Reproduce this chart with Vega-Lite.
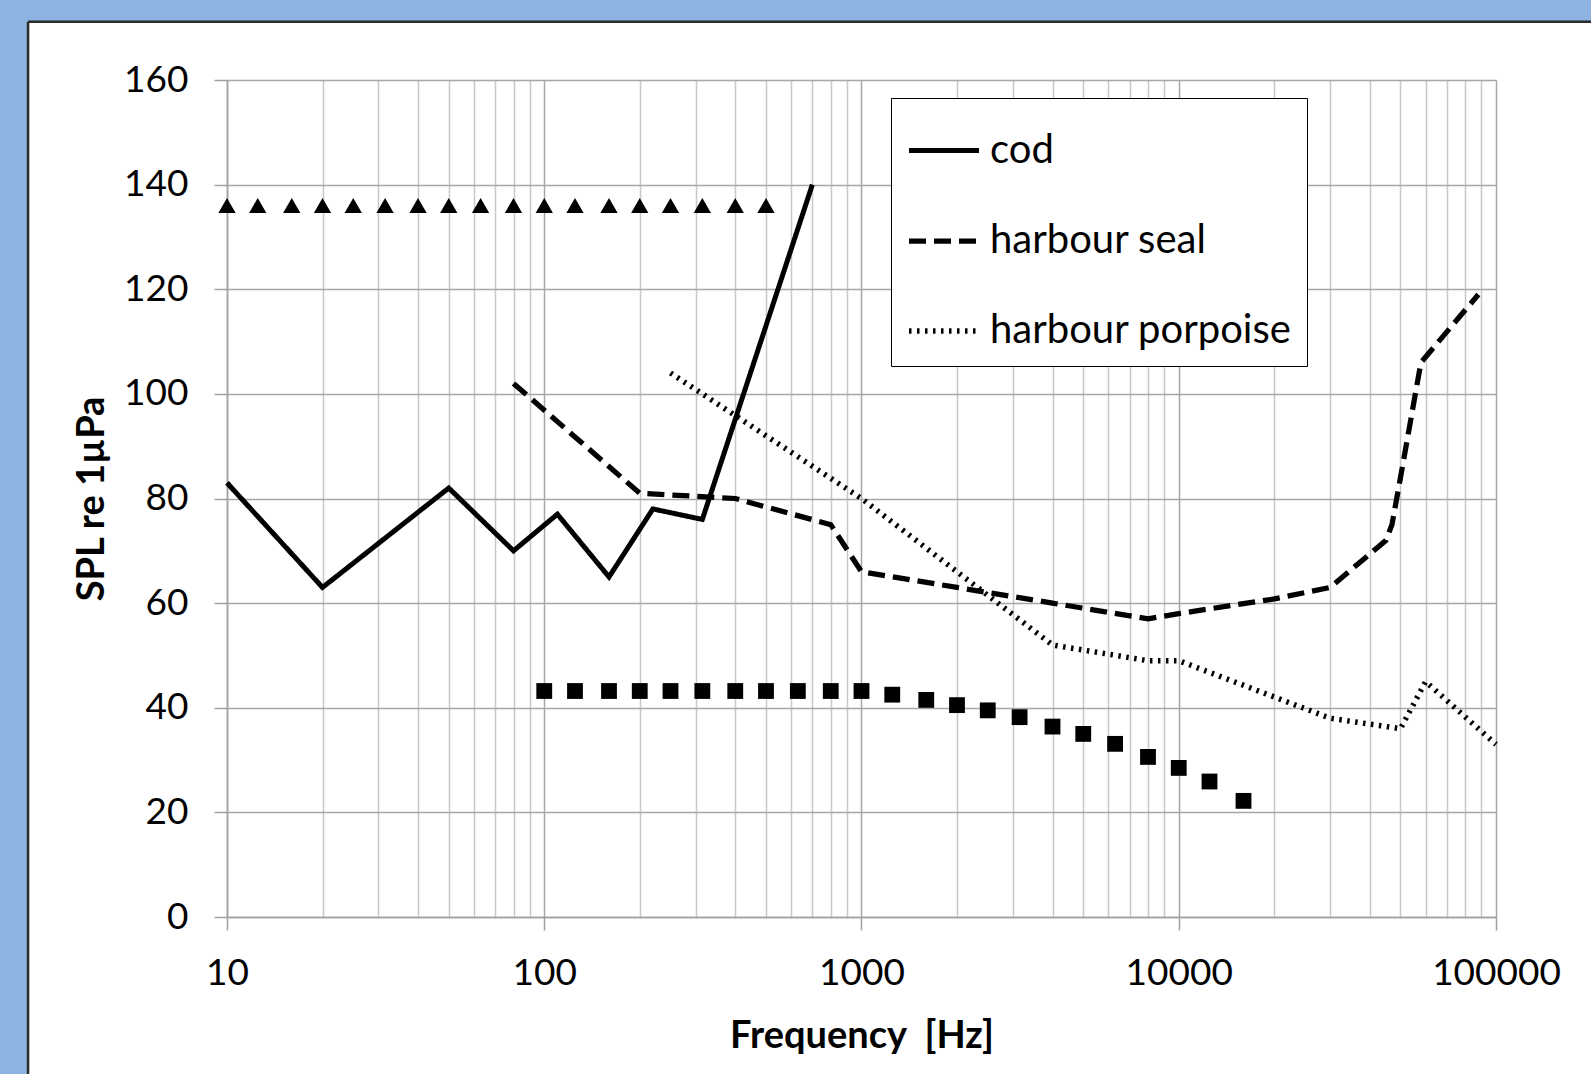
{
  "$schema": "https://vega.github.io/schema/vega-lite/v6.json",
  "width": 1269,
  "height": 837,
  "autosize": {"type": "none"},
  "padding": {"left": 227, "top": 80, "right": 95, "bottom": 157},
  "background": "#ffffff",
  "config": {
    "view": {"stroke": null},
    "font": "Lato",
    "axis": {
      "labelFont": "Lato",
      "labelFontSize": 37,
      "labelColor": "#000000",
      "titleFont": "Lato",
      "titleFontSize": 38,
      "titleFontWeight": "bold",
      "titleColor": "#000000",
      "domainColor": "#A0A0A0",
      "domainWidth": 1.5,
      "tickColor": "#A0A0A0",
      "tickWidth": 1.5,
      "gridWidth": 1.5
    },
    "legend": {
      "orient": "none",
      "legendX": 664,
      "legendY": 18,
      "strokeColor": "#000000",
      "fillColor": "#ffffff",
      "padding": 15,
      "symbolType": "stroke",
      "symbolSize": 4900,
      "symbolStrokeColor": "#000000",
      "labelFont": "Lato",
      "labelFontSize": 40,
      "labelColor": "#000000",
      "labelLimit": 600,
      "labelOffset": 8,
      "rowPadding": 32
    }
  },
  "datasets": {
    "lines": [
      {"species": "cod", "freq": 10, "spl": 83},
      {"species": "cod", "freq": 20, "spl": 63},
      {"species": "cod", "freq": 50, "spl": 82},
      {"species": "cod", "freq": 80, "spl": 70},
      {"species": "cod", "freq": 110, "spl": 77},
      {"species": "cod", "freq": 160, "spl": 65},
      {"species": "cod", "freq": 220, "spl": 78},
      {"species": "cod", "freq": 315, "spl": 76},
      {"species": "cod", "freq": 700, "spl": 140},
      {"species": "harbour seal", "freq": 80, "spl": 102},
      {"species": "harbour seal", "freq": 200, "spl": 81},
      {"species": "harbour seal", "freq": 400, "spl": 80},
      {"species": "harbour seal", "freq": 800, "spl": 75},
      {"species": "harbour seal", "freq": 1000, "spl": 66},
      {"species": "harbour seal", "freq": 2000, "spl": 63},
      {"species": "harbour seal", "freq": 4000, "spl": 60},
      {"species": "harbour seal", "freq": 8000, "spl": 57},
      {"species": "harbour seal", "freq": 10000, "spl": 58},
      {"species": "harbour seal", "freq": 20000, "spl": 60.8},
      {"species": "harbour seal", "freq": 30000, "spl": 63},
      {"species": "harbour seal", "freq": 45000, "spl": 72},
      {"species": "harbour seal", "freq": 47000, "spl": 75},
      {"species": "harbour seal", "freq": 50000, "spl": 84},
      {"species": "harbour seal", "freq": 58000, "spl": 106},
      {"species": "harbour seal", "freq": 88000, "spl": 119},
      {"species": "harbour porpoise", "freq": 250, "spl": 104},
      {"species": "harbour porpoise", "freq": 1000, "spl": 80},
      {"species": "harbour porpoise", "freq": 2000, "spl": 66},
      {"species": "harbour porpoise", "freq": 4000, "spl": 52},
      {"species": "harbour porpoise", "freq": 8000, "spl": 49},
      {"species": "harbour porpoise", "freq": 10000, "spl": 49},
      {"species": "harbour porpoise", "freq": 30000, "spl": 38},
      {"species": "harbour porpoise", "freq": 50000, "spl": 36},
      {"species": "harbour porpoise", "freq": 60000, "spl": 45},
      {"species": "harbour porpoise", "freq": 100000, "spl": 33}
    ],
    "triangles": [
      {"freq": 10, "spl": 136}, {"freq": 12.5, "spl": 136}, {"freq": 16, "spl": 136},
      {"freq": 20, "spl": 136}, {"freq": 25, "spl": 136}, {"freq": 31.5, "spl": 136},
      {"freq": 40, "spl": 136}, {"freq": 50, "spl": 136}, {"freq": 63, "spl": 136},
      {"freq": 80, "spl": 136}, {"freq": 100, "spl": 136}, {"freq": 125, "spl": 136},
      {"freq": 160, "spl": 136}, {"freq": 200, "spl": 136}, {"freq": 250, "spl": 136},
      {"freq": 315, "spl": 136}, {"freq": 400, "spl": 136}, {"freq": 500, "spl": 136}
    ],
    "squares": [
      {"freq": 100, "spl": 43.2}, {"freq": 125, "spl": 43.2}, {"freq": 160, "spl": 43.2},
      {"freq": 200, "spl": 43.2}, {"freq": 250, "spl": 43.2}, {"freq": 315, "spl": 43.2},
      {"freq": 400, "spl": 43.2}, {"freq": 500, "spl": 43.2}, {"freq": 630, "spl": 43.2},
      {"freq": 800, "spl": 43.2}, {"freq": 1000, "spl": 43.2}, {"freq": 1250, "spl": 42.5},
      {"freq": 1600, "spl": 41.5}, {"freq": 2000, "spl": 40.5}, {"freq": 2500, "spl": 39.5},
      {"freq": 3150, "spl": 38.2}, {"freq": 4000, "spl": 36.4}, {"freq": 5000, "spl": 35.0},
      {"freq": 6300, "spl": 33.1}, {"freq": 8000, "spl": 30.6}, {"freq": 10000, "spl": 28.5},
      {"freq": 12500, "spl": 25.9}, {"freq": 16000, "spl": 22.2}
    ]
  },
  "layer": [
    {
      "data": {"name": "lines"},
      "mark": {"type": "line", "color": "#000000", "strokeCap": "butt"},
      "encoding": {
        "x": {
          "field": "freq",
          "type": "quantitative",
          "scale": {"type": "log", "domain": [10, 100000], "nice": false},
          "axis": {
            "title": "Frequency \u00a0[Hz]",
            "titlePadding": 26,
            "values": [10, 20, 30, 40, 50, 60, 70, 80, 90, 100, 200, 300, 400, 500, 600, 700, 800, 900, 1000, 2000, 3000, 4000, 5000, 6000, 7000, 8000, 9000, 10000, 20000, 30000, 40000, 50000, 60000, 70000, 80000, 90000, 100000],
            "format": "d",
            "labelExpr": "indexof([10,100,1000,10000,100000], datum.value) >= 0 ? datum.label : ''",
            "labelOverlap": false,
            "labelPadding": 25,
            "labelFlush": false,
            "tickSize": {"condition": {"test": "indexof([10,100,1000,10000,100000], datum.value) >= 0", "value": 13}, "value": 0},
            "gridColor": {"condition": {"test": "indexof([10,100,1000,10000,100000], datum.value) >= 0", "value": "#A6A6A6"}, "value": "#C8C8C8"}
          }
        },
        "y": {
          "field": "spl",
          "type": "quantitative",
          "scale": {"domain": [0, 160], "nice": false, "zero": false},
          "axis": {
            "title": "SPL re 1µPa",
            "titlePadding": 12,
            "values": [0, 20, 40, 60, 80, 100, 120, 140, 160],
            "tickSize": 13,
            "labelPadding": 26,
            "gridColor": "#A6A6A6"
          }
        },
        "strokeDash": {
          "field": "species",
          "type": "nominal",
          "scale": {"domain": ["cod", "harbour seal", "harbour porpoise"], "range": [[1, 0], [17, 8], [2.5, 5.5]]},
          "legend": {"title": null}
        },
        "strokeWidth": {
          "field": "species",
          "type": "ordinal",
          "scale": {"domain": ["cod", "harbour seal", "harbour porpoise"], "range": [5, 5.5, 3.5]},
          "legend": {"title": null}
        }
      }
    },
    {
      "data": {"name": "triangles"},
      "mark": {"type": "point", "shape": "triangle-up", "filled": true, "color": "#000000", "opacity": 1, "size": 300},
      "encoding": {
        "x": {"field": "freq", "type": "quantitative"},
        "y": {"field": "spl", "type": "quantitative"}
      }
    },
    {
      "data": {"name": "squares"},
      "mark": {"type": "point", "shape": "square", "filled": true, "color": "#000000", "opacity": 1, "size": 250},
      "encoding": {
        "x": {"field": "freq", "type": "quantitative"},
        "y": {"field": "spl", "type": "quantitative"}
      }
    },
    {
      "data": {"values": [{}]},
      "mark": {"type": "rect", "color": "#8DB3E2", "clip": false},
      "encoding": {
        "x": {"datum": 0.01},
        "x2": {"datum": 100000000},
        "y": {"datum": 171.15},
        "y2": {"datum": 250}
      }
    },
    {
      "data": {"values": [{}]},
      "mark": {"type": "rect", "color": "#8DB3E2", "clip": false},
      "encoding": {
        "x": {"datum": 0.01},
        "x2": {"datum": 2.36},
        "y": {"datum": -100},
        "y2": {"datum": 250}
      }
    },
    {
      "data": {"values": [{}]},
      "mark": {"type": "rule", "color": "#2B2B2B", "strokeWidth": 2.5, "clip": false},
      "encoding": {
        "x": {"datum": 2.36},
        "x2": {"datum": 100000000},
        "y": {"datum": 171.15}
      }
    },
    {
      "data": {"values": [{}]},
      "mark": {"type": "rule", "color": "#2B2B2B", "strokeWidth": 2.5, "clip": false},
      "encoding": {
        "x": {"datum": 2.36},
        "y": {"datum": -100},
        "y2": {"datum": 171.15}
      }
    }
  ]
}
